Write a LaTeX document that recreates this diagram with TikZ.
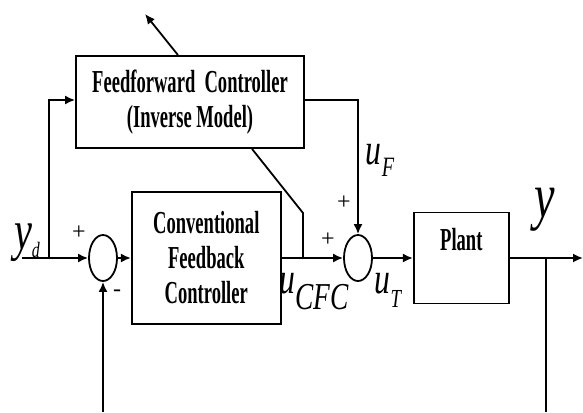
\documentclass[tikz,border=0pt]{standalone}
\usepackage{fontspec}
\setmainfont{Liberation Serif}
\newfontfamily\narrowfont[FakeStretch=0.58]{Liberation Serif}
\newfontfamily\sigfont[FakeStretch=0.72]{Liberation Serif}
\usetikzlibrary{arrows.meta,positioning,shapes.geometric}

\newcommand{\sig}[5]{{\sigfont\itshape\fontsize{#1}{#1}\selectfont #2\raisebox{#5}{\fontsize{#3}{#3}\selectfont #4}}}

\begin{document}
\begin{tikzpicture}[x=0.5pt, y=-0.5pt,
        box/.style={draw, line width=0.9pt, align=center, inner sep=0pt,
            font=\narrowfont\bfseries\fontsize{16}{17.5}\selectfont},
        sumnode/.style={draw, ellipse, line width=0.9pt, inner sep=0pt,
            minimum width=14pt, minimum height=23pt},
        arr/.style={-{Latex[length=5pt,width=4.5pt]}, line width=0.9pt},
        ln/.style={line width=0.9pt},
        sgn/.style={font=\fontsize{12}{12}\selectfont, inner sep=0pt}
    ]
    \useasboundingbox (0,0) rectangle (583,412);

    \node[box, minimum width=114pt, minimum height=46pt] (ff) at (190,102)
        {Feedforward\ \ Controller\\(Inverse Model)};
    \node[sumnode] (sum1) at (103,258) {};
    \node[box, right=6.5pt of sum1, minimum width=74.5pt, minimum height=66pt] (fb)
        {Conventional\\Feedback\\Controller};
    \node[sumnode] (sum2) at (358,258) {};
    \node[box, right=20pt of sum2, minimum width=47.5pt, minimum height=45.5pt,
        label={[anchor=north, yshift=-8pt, inner sep=0pt,
            font=\narrowfont\bfseries\fontsize{16}{16}\selectfont]north:Plant}] (plant) {};

    \coordinate (ydin) at (22,258);
    \coordinate (jyd) at (49,258);
    \coordinate (fbin) at (103,412);
    \coordinate (jcfc) at (303,258);
    \coordinate (kink) at (303,213);
    \coordinate (adtip) at (145,14);
    \coordinate (yout) at (583,258);
    \coordinate (jy) at (546,258);
    \coordinate (yfb) at (546,412);

    \draw[arr] (ydin) -- (sum1);
    \draw[arr] (jyd) |- ([yshift=1pt]ff.west);
    \draw[arr] (fbin) -- (sum1.south);
    \draw[arr] (sum1) -- (fb);
    \draw[arr] (fb) -- (sum2);
    \draw[ln] (jcfc) -- (kink) -- ([xshift=31pt]ff.south);
    \draw[arr] ([xshift=-6pt]ff.north) -- (adtip);
    \draw[arr] ([yshift=1pt]ff.east) -| (sum2.north);
    \draw[arr] (sum2) -- (plant);
    \draw[arr] (plant) -- (yout);
    \draw[ln] (jy) -- (yfb);

    % signs
    \node[sgn] (p1) at (79,233) {+};
    \node[sgn] (m1) at (117,293) {-};
    \node[sgn] (p2) at (328,240) {+};
    \node[sgn] (p3) at (344,203) {+};

    % signal labels
    \node (lyd) at (27,243) {\sig{28}{y}{11}{d}{-4pt}};
    \node (luf) at (380,160) {\sig{22}{u}{14}{F}{-6pt}};
    \node (lucfc) at (314,292) {\sig{22}{u}{19}{CFC}{-8pt}};
    \node (lut) at (388,290) {\sig{22}{u}{13}{T}{-7pt}};
    \node (ly) at (545,210) {\sig{32}{y}{10}{}{0pt}};
\end{tikzpicture}
\end{document}
